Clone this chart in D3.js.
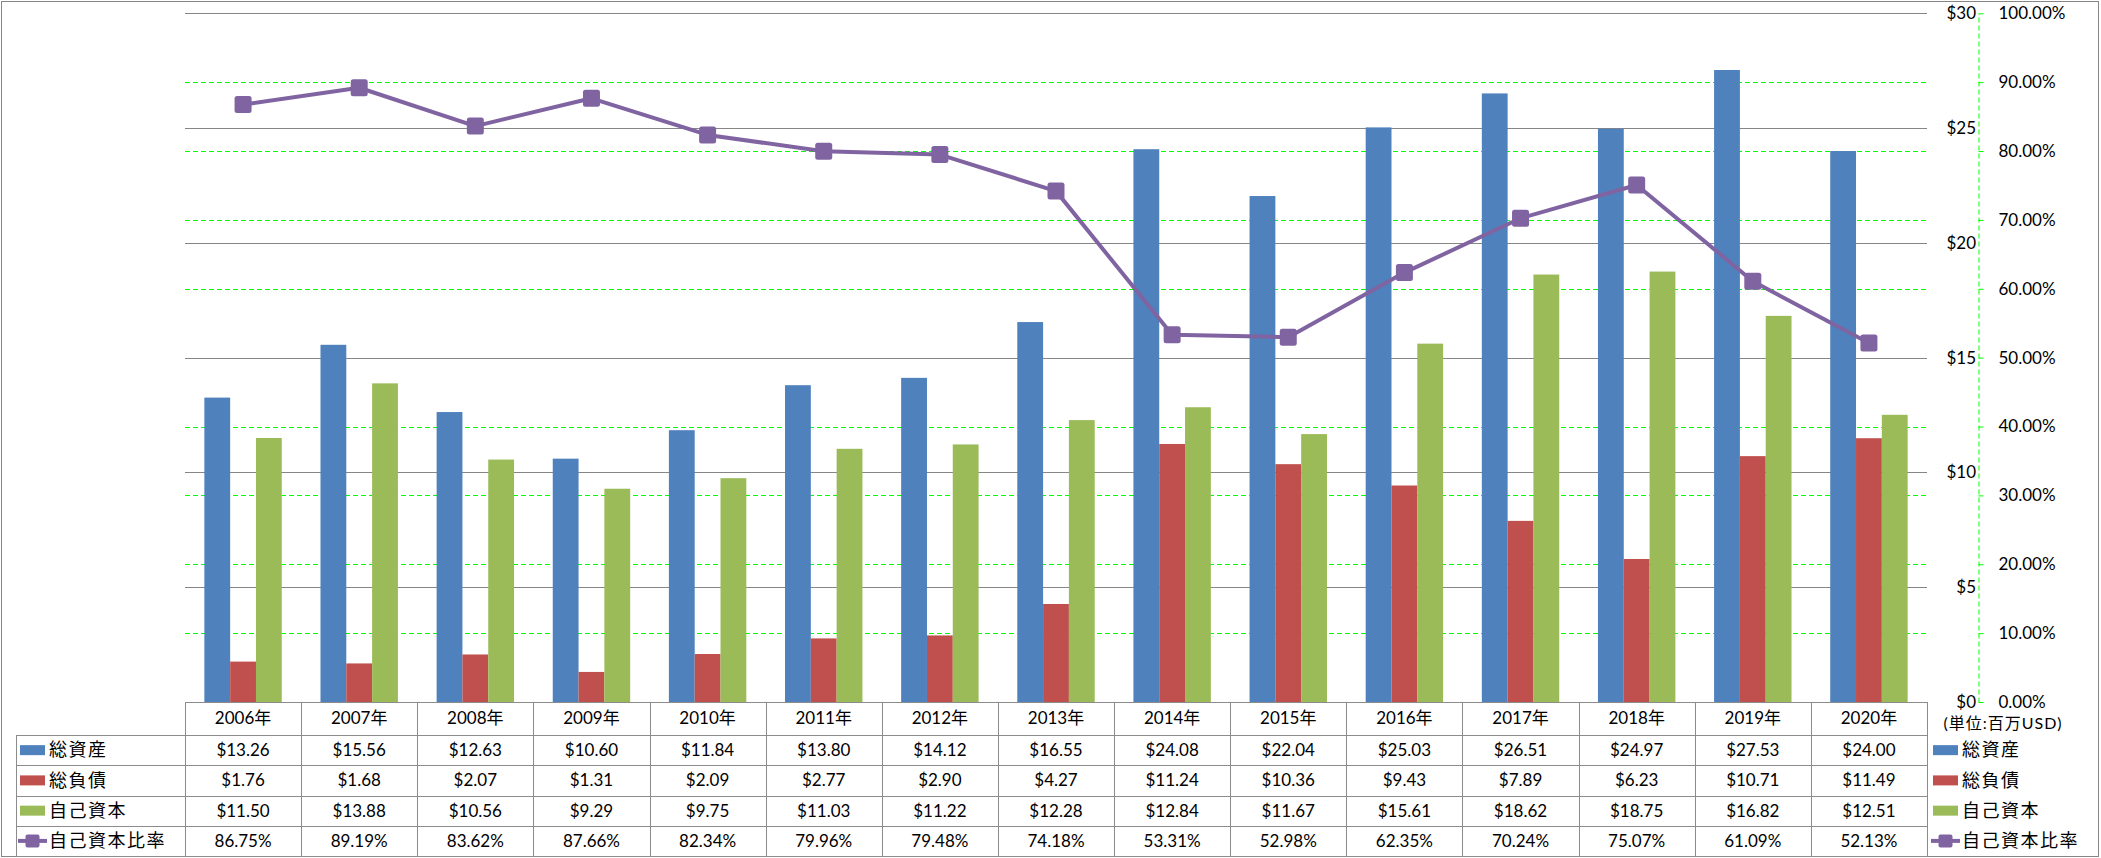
<!DOCTYPE html>
<html lang="ja">
<head>
<meta charset="UTF-8">
<title>総資産・総負債・自己資本</title>
<script src="https://d3js.org/d3.v7.min.js"></script>
<style>
  body { margin: 0; background: #fff; }
  svg { display: block; }
  text { font-family: Lato, "Noto Sans CJK JP", sans-serif; font-size: 17px; fill: #000; }
  .jp { font-size: 18px; letter-spacing: 1.5px; }
  .grid { stroke: #868686; stroke-width: 1; shape-rendering: crispEdges; }
  .grid2 { stroke: #00ff00; stroke-width: 1; stroke-dasharray: 5,3; shape-rendering: crispEdges; }
  .tbl { stroke: #8c8c8c; stroke-width: 1; shape-rendering: crispEdges; }
</style>
</head>
<body>
<svg width="2101" height="858"></svg>
<script>
// data (百万USD)
const years = ["2006年","2007年","2008年","2009年","2010年","2011年","2012年","2013年","2014年","2015年","2016年","2017年","2018年","2019年","2020年"];
const totalAssets = [13.26,15.56,12.63,10.60,11.84,13.80,14.12,16.55,24.08,22.04,25.03,26.51,24.97,27.53,24.00];
const totalLiabilities = [1.76,1.68,2.07,1.31,2.09,2.77,2.90,4.27,11.24,10.36,9.43,7.89,6.23,10.71,11.49];
const equity = [11.50,13.88,10.56,9.29,9.75,11.03,11.22,12.28,12.84,11.67,15.61,18.62,18.75,16.82,12.51];
const equityRatio = [86.75,89.19,83.62,87.66,82.34,79.96,79.48,74.18,53.31,52.98,62.35,70.24,75.07,61.09,52.13];
const seriesNames = ["総資産","総負債","自己資本"];
const lineName = "自己資本比率";
const colors = ["#4f81bd","#c0504d","#9bbb59"];
const lineColor = "#8064a2";
const dollarTicks = [0,5,10,15,20,25,30];
const pctTicks = [0,10,20,30,40,50,60,70,80,90,100];

const svg = d3.select("svg");

const plotLeft = 185, plotRight = 1927, plotTop = 13.3, plotBottom = 702;
const x = d3.scaleBand().domain(years).range([plotLeft, plotRight]);
const xs = d3.scaleBand().domain(seriesNames).range([0, x.bandwidth()]).paddingOuter(0.75);
const y = d3.scaleLinear().domain([0, 30]).range([plotBottom, plotTop]);
const yp = d3.scaleLinear().domain([0, 100]).range([plotBottom, plotTop]);

// outer frame
svg.append("rect")
  .attr("x", 1.5).attr("y", 1.5).attr("width", 2097).attr("height", 855)
  .attr("fill", "none").attr("stroke", "#868686");

// green dashed grid (secondary)
svg.append("g").selectAll("line")
  .data(pctTicks.filter(d => d > 0))
  .join("line")
  .attr("class", "grid2")
  .attr("x1", plotLeft).attr("x2", plotRight)
  .attr("y1", d => Math.round(yp(d)) + 0.5).attr("y2", d => Math.round(yp(d)) + 0.5);

// gray grid (primary)
svg.append("g").selectAll("line")
  .data(dollarTicks.filter(d => d > 0))
  .join("line")
  .attr("class", "grid")
  .attr("x1", plotLeft).attr("x2", plotRight)
  .attr("y1", d => Math.round(y(d)) + 0.5).attr("y2", d => Math.round(y(d)) + 0.5);

// bars
const seriesVals = [totalAssets, totalLiabilities, equity];
const barG = svg.append("g");
seriesNames.forEach((name, si) => {
  barG.append("g").selectAll("rect")
    .data(years)
    .join("rect")
    .attr("x", (d) => x(d) + xs(name))
    .attr("width", xs.bandwidth())
    .attr("y", (d, i) => y(seriesVals[si][i]))
    .attr("height", (d, i) => plotBottom - y(seriesVals[si][i]))
    .attr("fill", colors[si]);
});

// line + markers
const pts = years.map((yr, i) => [x(yr) + x.bandwidth() / 2, yp(equityRatio[i])]);
svg.append("path")
  .attr("d", d3.line()(pts))
  .attr("fill", "none")
  .attr("stroke", lineColor)
  .attr("stroke-width", 4)
  .attr("stroke-linejoin", "round");
svg.append("g").selectAll("rect")
  .data(pts)
  .join("rect")
  .attr("x", d => d[0] - 8.5).attr("y", d => d[1] - 8.5)
  .attr("width", 17).attr("height", 17).attr("rx", 2.5)
  .attr("fill", lineColor);

// secondary axis (percent)
const axisPct = d3.axisRight(yp)
  .tickValues(pctTicks)
  .tickSize(5).tickSizeOuter(0).tickPadding(15)
  .tickFormat(d => d.toFixed(2) + "%");
const gp = svg.append("g").attr("transform", "translate(1978.5,0)").call(axisPct);
gp.select(".domain").attr("stroke", "#00ff00").attr("stroke-dasharray", "5,3");
gp.selectAll(".tick line").attr("stroke", "#00ff00");
gp.attr("font-family", null).attr("font-size", null);

// primary axis labels ($)
const axisDol = d3.axisLeft(y)
  .tickValues(dollarTicks)
  .tickSize(0).tickPadding(2)
  .tickFormat(d => "$" + d);
const gd = svg.append("g").attr("transform", "translate(1978,0)").call(axisDol);
gd.select(".domain").remove();
gd.attr("font-family", null).attr("font-size", null);

// unit note
svg.append("text")
  .attr("x", 2003).attr("y", 723).attr("dy", "0.35em")
  .attr("text-anchor", "middle")
  .style("font-size", "16px")
  .style("letter-spacing", "1px")
  .text("(単位:百万USD)");

// data table
const rowTops = [735, 765.3, 795.5, 825.8, 856];
const tblLeft = 16;
const tbl = svg.append("g");
tbl.append("line").attr("class", "tbl").attr("x1", plotLeft).attr("x2", plotRight).attr("y1", 702.5).attr("y2", 702.5);
rowTops.forEach(r => {
  tbl.append("line").attr("class", "tbl")
    .attr("x1", tblLeft).attr("x2", plotRight)
    .attr("y1", Math.round(r) + 0.5).attr("y2", Math.round(r) + 0.5);
});
const cols = years.map(d => x(d)).concat([plotRight]);
tbl.selectAll("line.v")
  .data(cols)
  .join("line")
  .attr("class", "tbl v")
  .attr("x1", d => Math.round(d) + 0.5).attr("x2", d => Math.round(d) + 0.5)
  .attr("y1", 702).attr("y2", 856);
tbl.append("line").attr("class", "tbl")
  .attr("x1", tblLeft + 0.5).attr("x2", tblLeft + 0.5).attr("y1", 735).attr("y2", 856);

// header (years)
tbl.append("g").selectAll("text")
  .data(years)
  .join("text")
  .attr("x", d => x(d) + x.bandwidth() / 2)
  .attr("y", 718.5).attr("dy", "0.35em")
  .attr("text-anchor", "middle")
  .text(d => d);

const rowCenters = rowTops.slice(0, 4).map((r, i) => (r + rowTops[i + 1]) / 2);
const rowVals = [
  totalAssets.map(v => "$" + v.toFixed(2)),
  totalLiabilities.map(v => "$" + v.toFixed(2)),
  equity.map(v => "$" + v.toFixed(2)),
  equityRatio.map(v => v.toFixed(2) + "%")
];
rowVals.forEach((vals, ri) => {
  tbl.append("g").selectAll("text")
    .data(vals)
    .join("text")
    .attr("x", (d, i) => x(years[i]) + x.bandwidth() / 2)
    .attr("y", rowCenters[ri]).attr("dy", "0.35em")
    .attr("text-anchor", "middle")
    .text(d => d);
});

// legend keys (table rows and right-hand legend)
function legendKeys(g, kx, tx) {
  seriesNames.forEach((name, i) => {
    g.append("rect")
      .attr("x", kx).attr("y", rowCenters[i] - 5)
      .attr("width", 25).attr("height", 10)
      .attr("fill", colors[i]);
    g.append("text").attr("class", "jp")
      .attr("x", tx).attr("y", rowCenters[i]).attr("dy", "0.35em")
      .text(name);
  });
  const cy = rowCenters[3];
  g.append("line")
    .attr("x1", kx - 2).attr("x2", kx + 27)
    .attr("y1", cy).attr("y2", cy)
    .attr("stroke", lineColor).attr("stroke-width", 4);
  g.append("rect")
    .attr("x", kx + 12.5 - 7).attr("y", cy - 6.5)
    .attr("width", 14).attr("height", 13).attr("rx", 2)
    .attr("fill", lineColor);
  g.append("text").attr("class", "jp")
    .attr("x", tx).attr("y", cy).attr("dy", "0.35em")
    .text(lineName);
}
legendKeys(svg.append("g"), 20, 49);
legendKeys(svg.append("g"), 1933, 1962);
</script>
</body>
</html>
